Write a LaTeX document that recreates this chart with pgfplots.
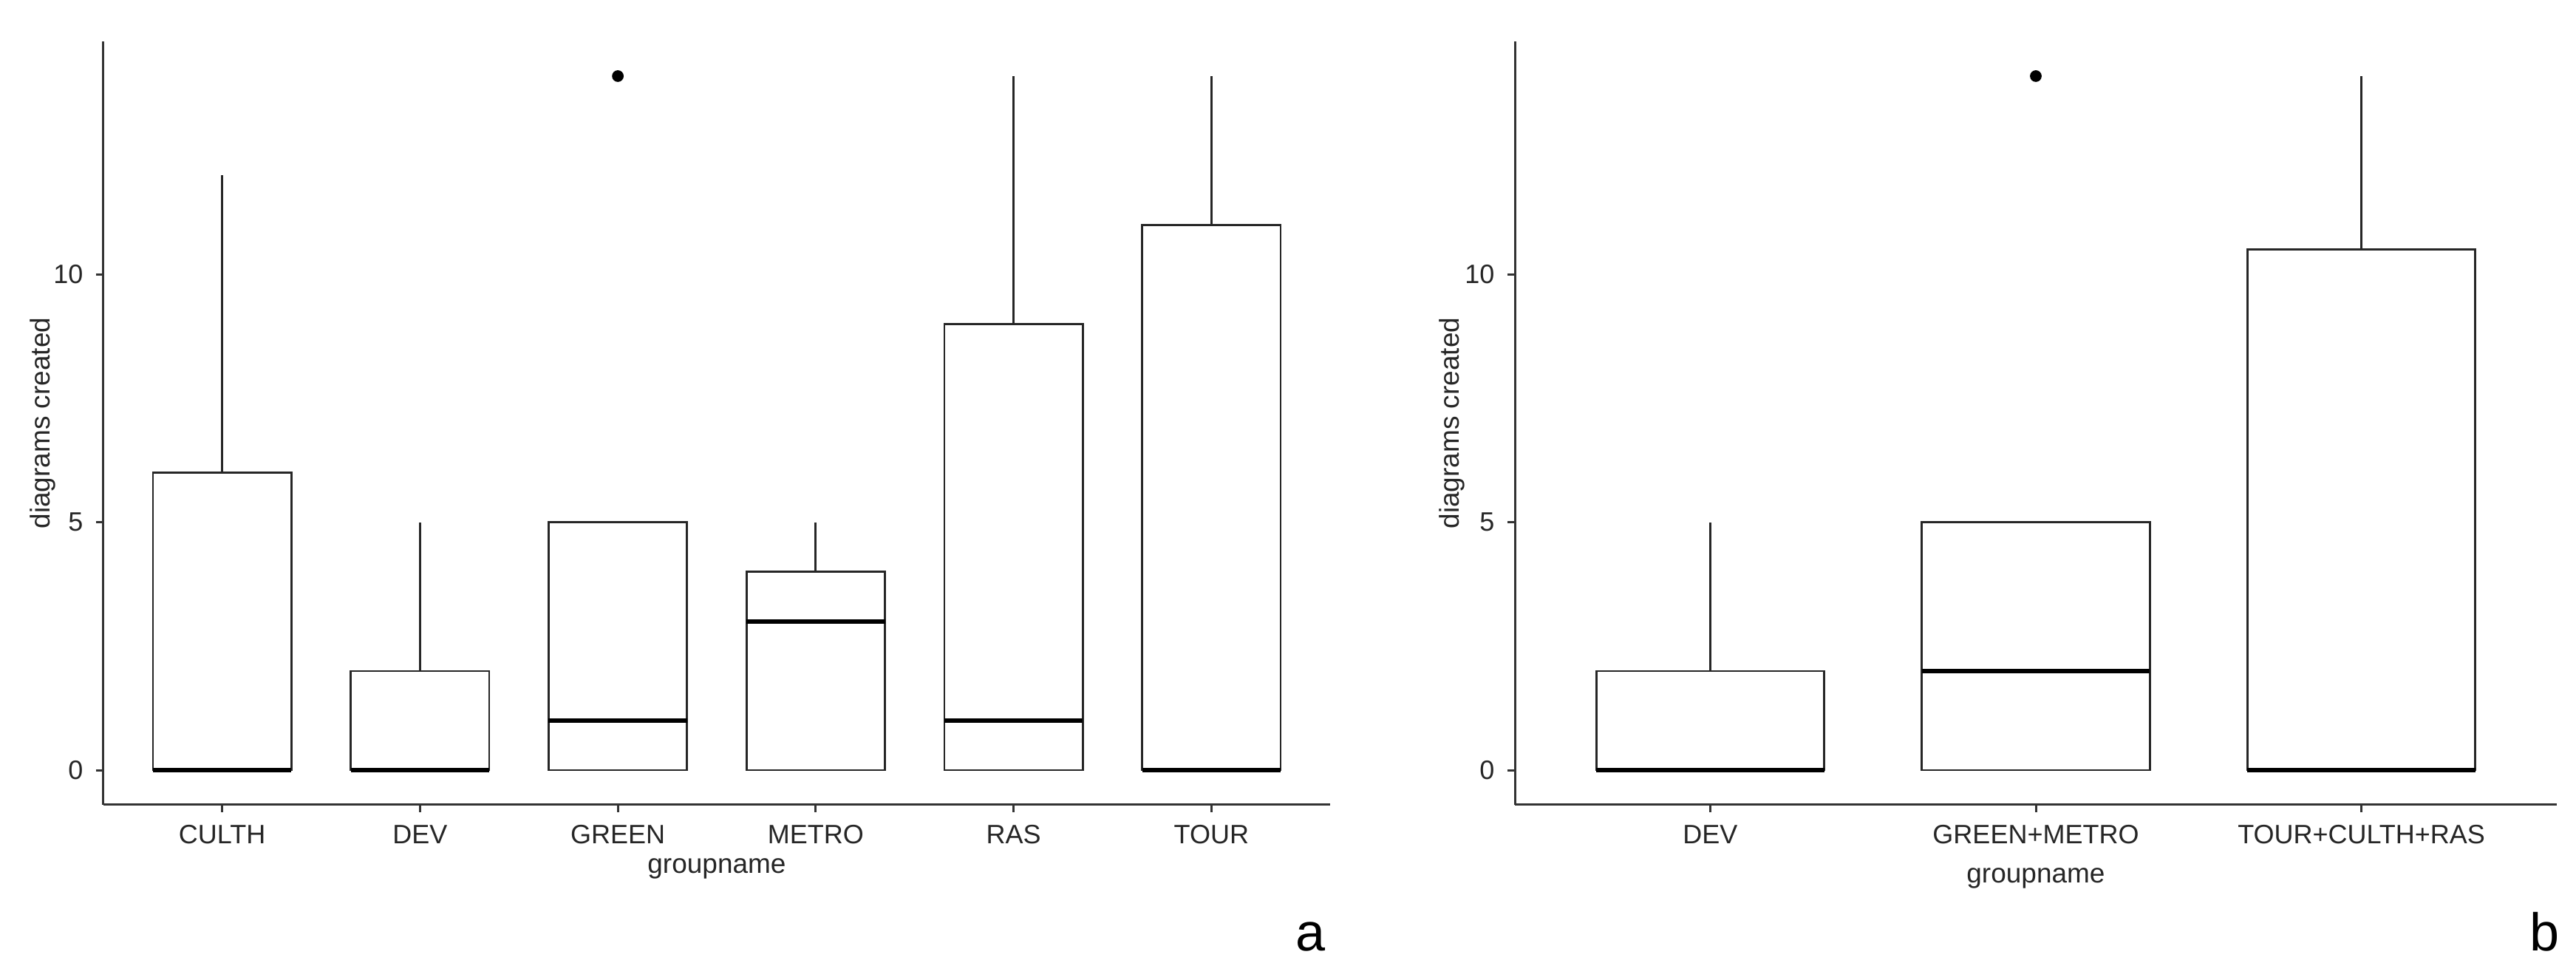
\documentclass[border=0pt]{standalone}
\usepackage{fontspec}
\setmainfont{Liberation Sans}
\usepackage{pgfplots}
\pgfplotsset{compat=1.18}
\usepgfplotslibrary{statistics}

\pgfplotsset{
  rbox/.style={
    scale only axis, height=206.6pt,
    axis lines=left, axis line style={-, black!80, line width=0.6pt},
    ymin=-0.7, ymax=14.7, ytick={0,5,10},
    tick align=outside, major tick length=2pt,
    tick style={black!80, line width=0.6pt},
    ticklabel style={font=\fontsize{7.2}{8.6}\selectfont, text=black!85},
    /pgf/number format/assume math mode=true,
    label style={font=\fontsize{7.4}{8.8}\selectfont, text=black!85},
    xlabel={groupname}, ylabel={diagrams created},
    boxplot/draw direction=y,
    boxplot/box extend=0.7,
    boxplot/whisker extend=0,
    boxplot/every median/.style={line width=1.2pt, black},
    clip=false,
  },
  bx/.style={black!85, line width=0.55pt, mark=*, mark size=1.3pt,
    mark options={fill=black, draw=black, solid}},
}

\begin{document}
\begin{tikzpicture}
\useasboundingbox (0,0) rectangle (697.2pt,265.2pt);

\begin{axis}[rbox, at={(28pt,47.4pt)}, anchor=south west, width=332pt,
  xmin=-0.6, xmax=5.6, xtick={0,1,2,3,4,5},
  xticklabels={CULTH,DEV,GREEN,METRO,RAS,TOUR},
  xlabel style={at={(axis description cs:0.5,0)}, anchor=base, yshift=-18.6pt},
  ylabel style={at={(axis description cs:-0.0434,0.5)}, anchor=base}]
\addplot[bx, boxplot prepared={draw position=0, lower whisker=0, lower quartile=0, median=0, upper quartile=6, upper whisker=12}] coordinates {};
\addplot[bx, boxplot prepared={draw position=1, lower whisker=0, lower quartile=0, median=0, upper quartile=2, upper whisker=5}] coordinates {};
\addplot[bx, boxplot prepared={draw position=2, lower whisker=0, lower quartile=0, median=1, upper quartile=5, upper whisker=5}] table[row sep=\\, y index=0] {y\\ 14\\};
\addplot[bx, boxplot prepared={draw position=3, lower whisker=0, lower quartile=0, median=3, upper quartile=4, upper whisker=5}] coordinates {};
\addplot[bx, boxplot prepared={draw position=4, lower whisker=0, lower quartile=0, median=1, upper quartile=9, upper whisker=14}] coordinates {};
\addplot[bx, boxplot prepared={draw position=5, lower whisker=0, lower quartile=0, median=0, upper quartile=11, upper whisker=14}] coordinates {};
\end{axis}

\begin{axis}[rbox, at={(410pt,47.4pt)}, anchor=south west, width=282pt,
  xmin=-0.6, xmax=2.6, xtick={0,1,2},
  xticklabels={DEV,GREEN+METRO,TOUR+CULTH+RAS},
  xlabel style={at={(axis description cs:0.5,0)}, anchor=base, yshift=-21.2pt},
  ylabel style={at={(axis description cs:-0.0532,0.5)}, anchor=base}]
\addplot[bx, boxplot prepared={draw position=0, lower whisker=0, lower quartile=0, median=0, upper quartile=2, upper whisker=5}] coordinates {};
\addplot[bx, boxplot prepared={draw position=1, lower whisker=0, lower quartile=0, median=2, upper quartile=5, upper whisker=5}] table[row sep=\\, y index=0] {y\\ 14\\};
\addplot[bx, boxplot prepared={draw position=2, lower whisker=0, lower quartile=0, median=0, upper quartile=10.5, upper whisker=14}] coordinates {};
\end{axis}

\node[anchor=base west, inner sep=0, font=\fontsize{14.4}{17}\selectfont] at (350.4pt,7.8pt) {a};
\node[anchor=base west, inner sep=0, font=\fontsize{14.4}{17}\selectfont] at (684.4pt,7.8pt) {b};
\end{tikzpicture}
\end{document}
